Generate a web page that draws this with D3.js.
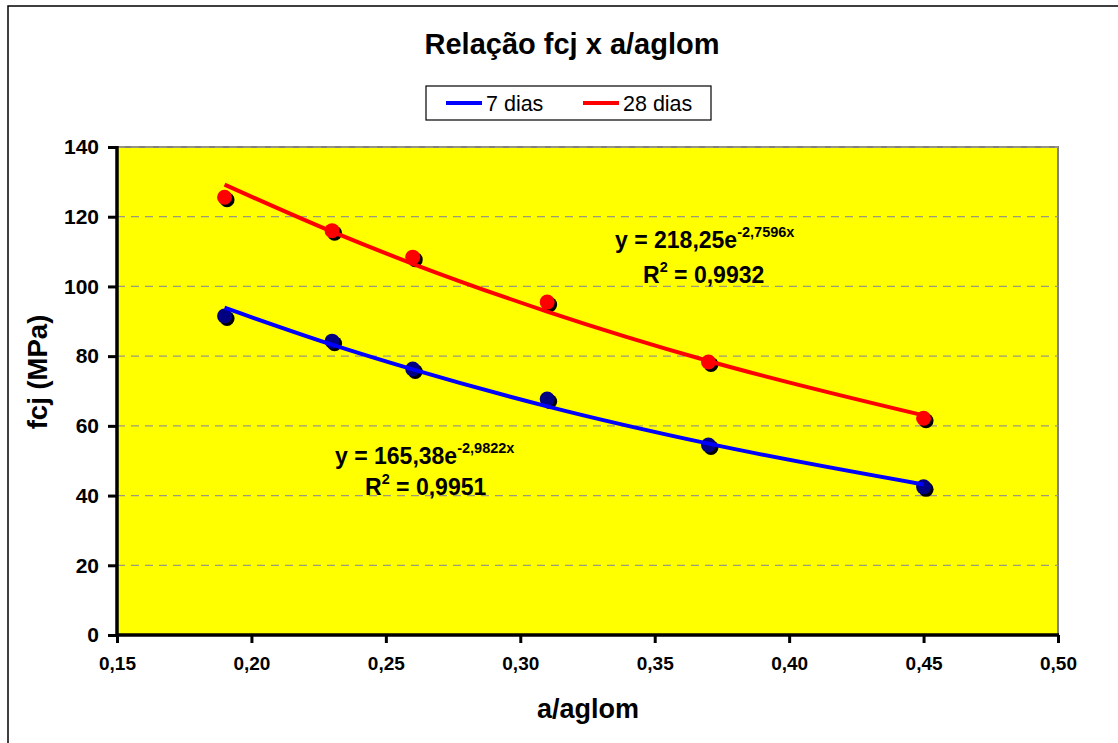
<!DOCTYPE html>
<html>
<head>
<meta charset="utf-8">
<script src="https://cdn.jsdelivr.net/npm/d3@7"></script>
<style>
  body { margin: 0; background: #fff; }
  svg { display: block; font-family: Arial, "Liberation Sans", sans-serif; }
</style>
</head>
<body>
<div id="chart"></div>
<script>
// Data
const aAglom = [0.19, 0.23, 0.26, 0.31, 0.37, 0.45];
const fcj7 = [91.5, 84.3, 76.3, 67.7, 54.5, 42.5];
const fcj28 = [125.6, 116.0, 108.4, 95.5, 78.3, 62.2];
// trend line values at the same x (as drawn)
const trend7 = [93.9, 83.3, 76.2, 65.6, 54.9, 43.2];
const trend28 = [129.2, 115.7, 106.5, 92.8, 78.6, 63.0];
const xTicks = [0.15, 0.20, 0.25, 0.30, 0.35, 0.40, 0.45, 0.50];
const yTicks = [0, 20, 40, 60, 80, 100, 120, 140];
const seriesNames = ["7 dias", "28 dias"];

const W = 1118, H = 743;
const plot = {left: 117, right: 1058, top: 147, bottom: 635};

const svg = d3.select("#chart").append("svg")
  .attr("width", W)
  .attr("height", H);

// chart area border (only top/left visible)
svg.append("rect")
  .attr("x", 8).attr("y", 6)
  .attr("width", 1300).attr("height", 900)
  .attr("fill", "#fff")
  .attr("stroke", "#000")
  .attr("stroke-width", 1.5);

const x = d3.scaleLinear().domain([0.15, 0.50]).range([plot.left, plot.right]);
const y = d3.scaleLinear().domain([0, 140]).range([plot.bottom, plot.top]);

// plot area
svg.append("rect")
  .attr("x", plot.left).attr("y", plot.top)
  .attr("width", plot.right - plot.left)
  .attr("height", plot.bottom - plot.top)
  .attr("fill", "#ffff00")
  .attr("stroke", "#808080")
  .attr("stroke-width", 2);

// dashed gridlines
svg.append("g")
  .selectAll("line")
  .data(yTicks.filter(d => d > 0))
  .join("line")
    .attr("x1", plot.left).attr("x2", plot.right)
    .attr("y1", d => y(d)).attr("y2", d => y(d))
    .attr("stroke", "#9a9a80")
    .attr("stroke-width", 1.3)
    .attr("stroke-dasharray", "8,6");

// axes
const fmt = d => d.toFixed(2).replace(".", ",");
const gx = svg.append("g")
  .attr("transform", `translate(0,${plot.bottom})`)
  .call(d3.axisBottom(x).tickValues(xTicks).tickFormat(fmt).tickSize(8).tickPadding(14))
  .call(g => g.select(".domain").remove());
gx.selectAll(".tick line").attr("stroke", "#000").attr("stroke-width", 3);
gx.selectAll(".tick text")
  .attr("fill", "#000")
  .attr("font-size", 19)
  .attr("font-weight", "bold")
  .attr("font-family", "Arial, 'Liberation Sans', sans-serif");

const gy = svg.append("g")
  .attr("transform", `translate(${plot.left},0)`)
  .call(d3.axisLeft(y).tickValues(yTicks).tickSize(9).tickPadding(9))
  .call(g => g.select(".domain").remove());
gy.selectAll(".tick line").attr("stroke", "#000").attr("stroke-width", 3);
gy.selectAll(".tick text")
  .attr("fill", "#000")
  .attr("font-size", 21)
  .attr("font-weight", "bold")
  .attr("font-family", "Arial, 'Liberation Sans', sans-serif");

// axis lines
svg.append("line")
  .attr("x1", plot.left).attr("x2", plot.right + 1)
  .attr("y1", plot.bottom).attr("y2", plot.bottom)
  .attr("stroke", "#000").attr("stroke-width", 3.5);
svg.append("line")
  .attr("x1", plot.left).attr("x2", plot.left)
  .attr("y1", plot.top - 1).attr("y2", plot.bottom + 1)
  .attr("stroke", "#000").attr("stroke-width", 3.5);

// markers with shadow
const pts7 = aAglom.map((d, i) => ({x: d, y: fcj7[i]}));
const pts28 = aAglom.map((d, i) => ({x: d, y: fcj28[i]}));
const markers = (data, fill) => {
  const g = svg.append("g");
  g.selectAll(".shadow")
    .data(data)
    .join("circle")
      .attr("class", "shadow")
      .attr("cx", d => x(d.x) + 2.5)
      .attr("cy", d => y(d.y) + 2.5)
      .attr("r", 7.5)
      .attr("fill", "#000");
  g.selectAll(".point")
    .data(data)
    .join("circle")
      .attr("class", "point")
      .attr("cx", d => x(d.x))
      .attr("cy", d => y(d.y))
      .attr("r", 7.5)
      .attr("fill", fill);
};
markers(pts7, "#000080");
markers(pts28, "#ff0000");

// trend lines
const line = d3.line()
  .x(d => x(d.x))
  .y(d => y(d.y))
  .curve(d3.curveMonotoneX);
svg.append("path")
  .datum(aAglom.map((d, i) => ({x: d, y: trend7[i]})))
  .attr("d", line)
  .attr("fill", "none")
  .attr("stroke", "#0000ff")
  .attr("stroke-width", 4);
svg.append("path")
  .datum(aAglom.map((d, i) => ({x: d, y: trend28[i]})))
  .attr("d", line)
  .attr("fill", "none")
  .attr("stroke", "#ff0000")
  .attr("stroke-width", 4);

// equations
const eq = (x0, y0, coef, expo, rx, ry, r2) => {
  const t = svg.append("text")
    .attr("x", x0).attr("y", y0)
    .attr("font-size", 23).attr("font-weight", "bold").attr("fill", "#000");
  t.append("tspan").text("y = " + coef + "e");
  t.append("tspan").attr("dy", -11).attr("font-size", 14.5).text(expo);
  const r = svg.append("text")
    .attr("x", rx).attr("y", ry)
    .attr("font-size", 23).attr("font-weight", "bold").attr("fill", "#000");
  r.append("tspan").text("R");
  r.append("tspan").attr("dy", -11).attr("font-size", 14.5).text("2");
  r.append("tspan").attr("dy", 11).text(" = " + r2);
};
eq(615, 248, "218,25", "-2,7596x", 643, 283, "0,9932");
eq(335, 464, "165,38", "-2,9822x", 365, 495, "0,9951");

// title
svg.append("text")
  .attr("x", 572).attr("y", 54)
  .attr("text-anchor", "middle")
  .attr("font-size", 29).attr("font-weight", "bold")
  .text("Relação fcj x a/aglom");

// axis titles
svg.append("text")
  .attr("x", 588).attr("y", 718)
  .attr("text-anchor", "middle")
  .attr("font-size", 27).attr("font-weight", "bold")
  .text("a/aglom");
svg.append("text")
  .attr("transform", "translate(47,372) rotate(-90)")
  .attr("text-anchor", "middle")
  .attr("font-size", 27.5).attr("font-weight", "bold")
  .text("fcj (MPa)");

// legend
const legend = svg.append("g");
legend.append("rect")
  .attr("x", 426).attr("y", 86)
  .attr("width", 285).attr("height", 34)
  .attr("fill", "#fff").attr("stroke", "#000").attr("stroke-width", 1.2);
const legendItems = [
  {name: seriesNames[0], color: "#0000ff", x0: 446},
  {name: seriesNames[1], color: "#ff0000", x0: 583}
];
legend.selectAll(".lg")
  .data(legendItems)
  .join("g")
    .attr("class", "lg")
    .each(function(d) {
      const g = d3.select(this);
      g.append("line")
        .attr("x1", d.x0).attr("x2", d.x0 + 36)
        .attr("y1", 103).attr("y2", 103)
        .attr("stroke", d.color).attr("stroke-width", 4);
      g.append("text")
        .attr("x", d.x0 + 40).attr("y", 111)
        .attr("font-size", 21.5)
        .text(d.name);
    });
</script>
</body>
</html>
